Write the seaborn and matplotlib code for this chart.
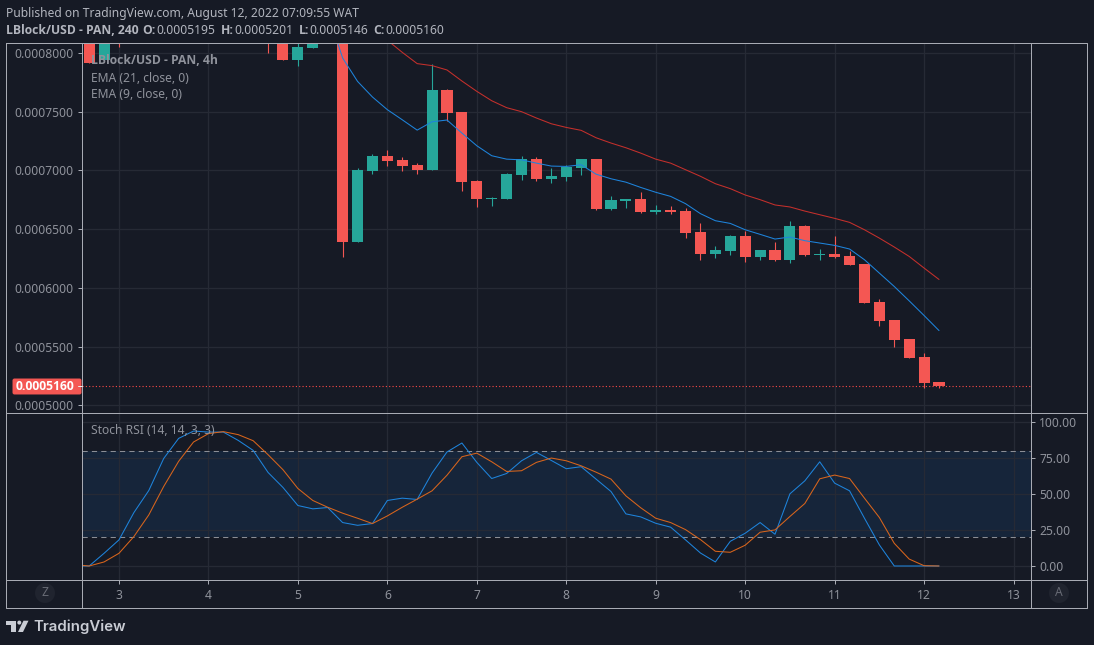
"""LBlock/USD 4h candles with EMA overlays and a Stoch RSI pane, TradingView dark look."""

import matplotlib
import matplotlib.pyplot as plt
import seaborn as sns
from matplotlib.patches import Circle, FancyBboxPatch, Polygon

matplotlib.use("Agg")

# bars are counted in 4h steps, so day d sits at bar 6 * d
candle_bar = [16, 17, 18, 28, 29, 30, 31] + list(range(33, 74))
candle_open = [
    .000825, .000794, .000830, .000830, .000825, .0007943, .0008045,
    .000860, .00063934, .0006996, .0007124, .000709, .0007047, .0007004, .0007686, .0007499,
    .0006911, .0006757, .0006757, .0006962, .0007098, .0006928, .0006945, .0007021, .0007098,
    .0006672, .000674, .0006757, .0006648, .0006665, .0006656, .0006477, .000629, .0006315,
    .0006443, .0006264, .0006324, .0006239, .0006528, .0006281, .000629, .0006273, .0006205,
    .000588, .0005727, .0005565, .0005412, .0005195,
]
candle_high = [
    .000830, .000825, .000835, .000835, .000830, .000812, .000825,
    .000865, .0007021, .000714, .0007175, .0007115, .0007064, .0007908, .0007695, .0007499,
    .0006919, .0006774, .0006979, .0007124, .0007115, .0007021, .0007047, .0007098, .0007098,
    .0006783, .0006757, .0006816, .0006707, .0006699, .0006682, .0006554, .0006358, .0006452,
    .0006486, .0006324, .0006392, .0006571, .0006537, .0006332, .0006443, .0006315, .0006205,
    .0005906, .0005727, .0005565, .0005446, .0005201,
]
candle_low = [
    .0007917, .000794, .0008053, .0008002, .0007943, .0007886, .0008041,
    .00062656, .00063934, .000697, .0007038, .0006996, .000697, .0007004, .0007422, .0006825,
    .0006689, .0006697, .0006757, .000692, .000691, .0006893, .000691, .0006962, .0006663,
    .0006663, .000668, .0006638, .0006631, .0006631, .0006426, .0006239, .0006256, .0006281,
    .0006222, .0006239, .000623, .0006213, .0006273, .0006239, .0006256, .0006196, .0005872,
    .0005676, .0005497, .0005403, .0005148, .0005146,
]
candle_close = [
    .0007917, .000825, .000825, .000825, .0007943, .0008053, .000825,
    .00063934, .0007004, .0007124, .0007081, .0007038, .0007004, .0007686, .000749, .0006902,
    .0006757, .0006765, .000697, .0007098, .0006928, .0006953, .000703, .0007098, .0006672,
    .0006749, .0006757, .0006646, .0006665, .0006648, .0006469, .000629, .0006324, .0006443,
    .0006264, .0006324, .0006239, .0006528, .0006281, .000629, .0006264, .0006196, .0005872,
    .0005719, .0005557, .0005403, .000519, .000516,
]

ema21_bar = list(range(36, 74))
ema21 = [
    .0008107, .0008004, .0007908, .0007891, .0007854, .000776,
    .0007672, .0007592, .0007533, .0007499, .0007445, .0007396,
    .0007365, .000734, .0007277, .0007232, .0007192, .0007146,
    .0007095, .0007061, .0007005, .0006949, .0006886, .0006844,
    .000679, .000675, .0006705, .0006688, .0006653, .0006622,
    .0006591, .0006557, .0006494, .0006423, .0006347, .0006267,
    .0006168, .0006071,
]
ema9_bar = list(range(32, 74))
ema9 = [
    .000834, .0007956, .0007757, .0007624,
    .0007516, .000743, .0007342, .0007413, .0007428, .0007317,
    .0007209, .0007124, .0007095, .0007089, .0007061, .0007036,
    .0007033, .0007047, .0006967, .0006928, .0006899, .0006854,
    .0006813, .0006778, .0006716, .0006631, .0006571, .0006548,
    .0006494, .0006455, .0006415, .0006432, .0006401, .0006381,
    .0006361, .000633, .0006239, .0006125, .0006011, .0005889,
    .0005764, .0005636,
]

stoch_bar = list(range(15, 74))
stoch_k = [
    0, 0, 8.8,
    18.1, 37.0, 52.3, 74.5, 88.4, 93.5,
    92.8, 92.8, 87.0, 80.1, 64.8, 54.4,
    41.9, 39.6, 40.5, 30.1, 28.2, 29.4,
    45.4, 47.0, 46.1, 64.4, 79.0, 85.2,
    71.8, 60.6, 64.1, 72.9, 78.7, 73.1,
    67.4, 68.8, 60.2, 51.6, 36.1, 34.0,
    29.6, 26.9, 18.1, 9.0, 2.8, 17.1,
    22.7, 30.1, 22.0, 50.0, 59.0, 72.2,
    57.4, 52.1, 33.1, 14.6, 0, 0,
    0, 0,
]
stoch_d = [
    0.9, 0, 2.8,
    8.8, 20.4, 35.4, 55.1, 72.5, 85.9,
    91.7, 93.1, 91.0, 86.8, 77.1, 66.7,
    53.7, 45.4, 40.7, 36.6, 33.1, 29.4,
    34.7, 40.7, 46.3, 52.1, 62.9, 75.7,
    78.2, 72.2, 65.5, 66.0, 71.8, 74.8,
    72.9, 69.4, 65.0, 60.2, 48.6, 40.3,
    33.1, 30.1, 25.2, 18.3, 10.2, 9.5,
    14.4, 23.4, 25.0, 34.3, 43.3, 60.4,
    63.0, 60.6, 47.0, 33.6, 15.7, 4.8,
    0.2, 0,
]

last_price = 0.000516
price_ticks = [.0005, .00055, .0006, .00065, .0007, .00075, .0008]
stoch_ticks = [0, 25, 50, 75, 100]
day_ticks = [18, 24, 30, 36, 42, 48, 54, 60, 66, 72, 78]
day_labels = ["3", "4", "5", "6", "7", "8", "9", "10", "11", "12", "13"]

BG = "#161a25"
GRID = "#262a35"
FRAME = "#a8abb4"
TEXT = "#8f929b"
HEAD = "#b2b5be"
UP = "#26a69a"
DOWN = "#f45753"
BOLD_FONT = "Open Sans"
W, H = 1094, 645

sns.set_theme(style="dark", rc={
    "figure.facecolor": BG,
    "axes.facecolor": BG,
    "axes.edgecolor": FRAME,
    "axes.linewidth": 0.72,
    "axes.grid": True,
    "grid.color": GRID,
    "grid.linewidth": 0.9,
    "xtick.bottom": True,
    "ytick.left": True,
    "xtick.color": FRAME,
    "ytick.color": FRAME,
    "xtick.labelcolor": TEXT,
    "ytick.labelcolor": TEXT,
})
plt.rcParams["font.family"] = ["Noto Sans", "DejaVu Sans"]


def pane(fig, left, top, right, bottom):
    return fig.add_axes([left / W, 1 - bottom / H, (right - left) / W, (bottom - top) / H])


fig = plt.figure(figsize=(W / 100, H / 100), dpi=100)
ax_price = pane(fig, 82, 43, 1031, 413)
ax_stoch = pane(fig, 82, 413, 1031, 580)

# candles
for bar, o, h, l, c in zip(candle_bar, candle_open, candle_high, candle_low, candle_close):
    col = UP if c >= o else DOWN
    ax_price.vlines(bar, l, h, color=col, linewidth=0.8, zorder=3)
    ax_price.bar(bar, abs(c - o), bottom=min(o, c), width=0.74, color=col, linewidth=0, zorder=3)

sns.lineplot(x=ema21_bar, y=ema21, ax=ax_price, color="#c5302c", linewidth=0.75,
             estimator=None, sort=False, zorder=4)
sns.lineplot(x=ema9_bar, y=ema9, ax=ax_price, color="#1e84dc", linewidth=0.75,
             estimator=None, sort=False, zorder=4)
ax_price.axhline(last_price, color="#fb4a48", linewidth=0.8, linestyle=(0, (1, 2)), zorder=4)

ax_price.set_xlim(15.52, 79.17)
ax_price.set_ylim(0.00049344, 0.00080835)
ax_price.set_yticks(price_ticks)
ax_price.set_yticklabels([f"{p:.7f}" for p in price_ticks], fontsize=8.7)
ax_price.set_xticks(day_ticks)
ax_price.tick_params(axis="x", length=0, labelbottom=False)
ax_price.tick_params(axis="y", length=3, width=0.72, pad=3)
ax_price.set_xlabel("")

# stoch RSI pane
ax_stoch.axhspan(20, 80, color="#16253a", linewidth=0, zorder=0.5)
for level in (20, 80):
    ax_stoch.axhline(level, color="#8b8e96", linewidth=0.75, linestyle=(0, (5, 4)), zorder=2)
sns.lineplot(x=stoch_bar, y=stoch_k, ax=ax_stoch, color="#1e84dc", linewidth=0.75,
             estimator=None, sort=False, zorder=4)
sns.lineplot(x=stoch_bar, y=stoch_d, ax=ax_stoch, color="#d9651c", linewidth=0.75,
             estimator=None, sort=False, zorder=4)
ax_stoch.set_xlim(15.52, 79.17)
ax_stoch.set_ylim(-9.7, 106)
ax_stoch.yaxis.tick_right()
ax_stoch.set_yticks(stoch_ticks)
ax_stoch.set_yticklabels([f"{s:.2f}" for s in stoch_ticks], fontsize=8.7)
ax_stoch.set_xticks(day_ticks)
ax_stoch.set_xticklabels(day_labels, fontsize=8.7)
ax_stoch.tick_params(axis="x", length=3, width=0.72, pad=3.2)
ax_stoch.tick_params(axis="y", length=3, width=0.72, pad=3)
ax_stoch.set_axisbelow(True)
ax_price.set_axisbelow(True)

# page-level overlay in pixel coordinates: frame, header, captions, logo
page = fig.add_axes([0, 0, 1, 1], zorder=10)
page.set_xlim(0, W)
page.set_ylim(H, 0)
page.axis("off")
page.patch.set_alpha(0)

frame_kw = dict(color=FRAME, linewidth=0.72, solid_capstyle="butt")
page.plot([6, 1087, 1087, 6, 6], [43, 43, 608, 608, 43], **frame_kw)
page.plot([82, 82], [43, 608], **frame_kw)
page.plot([1031, 1031], [43, 608], **frame_kw)
page.plot([6, 1087], [413, 413], **frame_kw)
page.plot([6, 1087], [580, 580], **frame_kw)

page.text(6.5, 13, "Published on TradingView.com, August 12, 2022 07:09:55 WAT",
          color=HEAD, fontsize=8.7, va="center")
header = [
    (6.5, "LBlock/USD - PAN, 240", "bold"), (142, "O:", "bold"), (156.5, "0.0005195", "normal"),
    (220.5, "H:", "bold"), (234, "0.0005201", "normal"), (298.5, "L:", "bold"),
    (309.5, "0.0005146", "normal"), (373, "C:", "bold"), (385, "0.0005160", "normal"),
]
for x, label, weight in header:
    face = BOLD_FONT if weight == "bold" else "Noto Sans"
    page.text(x, 30.5, label, color=HEAD, fontsize=8.7, fontweight=weight, family=face, va="center")

page.text(91, 61, "LBlock/USD - PAN, 4h", color=TEXT, fontsize=8.7, fontweight="bold",
          family=BOLD_FONT, va="center")
page.text(91, 78, "EMA (21, close, 0)", color=TEXT, fontsize=8.7, va="center")
page.text(91, 95, "EMA (9, close, 0)", color=TEXT, fontsize=8.7, va="center")
page.text(91, 431, "Stoch RSI (14, 14, 3, 3)", color=TEXT, fontsize=8.7, va="center")

# last price tag
page.add_patch(FancyBboxPatch((13, 379), 68, 15, boxstyle="round,pad=0,rounding_size=1.5",
                              facecolor=DOWN, edgecolor=DOWN, linewidth=0.7))
page.plot([78, 82], [386, 386], color="#e8e8e8", linewidth=0.72)
page.text(44.5, 386.5, f"{last_price:.7f}", color="white", fontsize=8.7, fontweight="bold",
          family=BOLD_FONT, ha="center", va="center")

# Z / A buttons
for cx, letter in ((45, "Z"), (1059, "A")):
    page.add_patch(Circle((cx, 593), 10, facecolor="#20242f", edgecolor="none"))
    page.text(cx, 593, letter, color="#686b75", fontsize=8.7, ha="center", va="center")

# logo
logo = "#c9ccd4"
page.add_patch(Polygon([(6, 620.7), (16, 620.7), (16, 632), (11, 632), (11, 624.5), (6, 624.5)],
                       facecolor=logo, edgecolor="none"))
page.add_patch(Circle((19.3, 622.6), 2.0, facecolor=logo, edgecolor="none"))
page.add_patch(Polygon([(23.5, 620.7), (28.5, 620.7), (23, 632), (18, 632)],
                       facecolor=logo, edgecolor="none"))
page.text(33.5, 626.5, "TradingView", color=logo, fontsize=10.8, fontweight="semibold",
          family="Inter", va="center")

fig.savefig("out.png", dpi=100, facecolor=BG)
